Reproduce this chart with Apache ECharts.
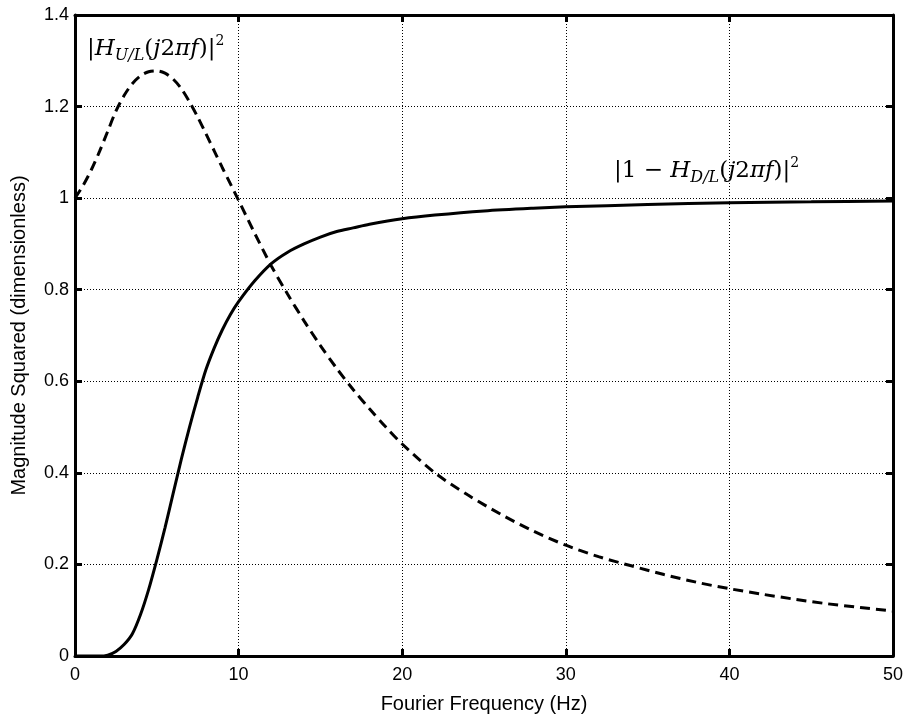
<!DOCTYPE html>
<html>
<head>
<meta charset="utf-8">
<script src="https://cdn.jsdelivr.net/npm/echarts@6/dist/echarts.min.js"></script>
<style>
html,body{margin:0;padding:0;background:#fff;}
#chart{width:907px;height:719px;}
</style>
</head>
<body>
<div id="chart"></div>
<script>
// Frequencies (Hz) and values for |H_U/L(j2πf)|^2 (dashed)
const freqUL = [0,0.5,1,1.5,2,2.5,3,3.5,4,4.5,5,5.5,6,6.5,7,7.5,8,8.5,9,9.5,10,11,12,13,14,15,16,17,18,19,20,22,24,26,28,30,32,34,36,38,40,42,44,46,48,50];
const valUL  = [1.0,1.028,1.062,1.102,1.146,1.19,1.224,1.25,1.267,1.276,1.278,1.273,1.26,1.239,1.21,1.177,1.141,1.104,1.067,1.031,0.995,0.922,0.852,0.79,0.732,0.678,0.628,0.582,0.54,0.50,0.463,0.40,0.352,0.31,0.273,0.242,0.217,0.197,0.178,0.161,0.147,0.135,0.124,0.114,0.106,0.098];
// Frequencies (Hz) and values for |1 - H_D/L(j2πf)|^2 (solid)
const freqDL = [0,1,1.5,2,2.5,3,3.5,4,4.5,5,5.5,6,6.5,7,7.5,8,8.5,9,9.5,10,11,12,13,14,15,16,17,18,20,22,25,28,30,35,40,45,50];
const valDL  = [0,0,0,0.002,0.01,0.025,0.048,0.09,0.145,0.21,0.28,0.355,0.43,0.50,0.565,0.625,0.672,0.712,0.746,0.774,0.82,0.857,0.882,0.90,0.915,0.927,0.935,0.943,0.955,0.963,0.972,0.978,0.981,0.986,0.99,0.992,0.994];
const xTicks = [0,10,20,30,40,50];
const yTicks = [0,0.2,0.4,0.6,0.8,1,1.2,1.4];
const xTitle = 'Fourier Frequency (Hz)';
const yTitle = 'Magnitude Squared (dimensionless)';

const chart = echarts.init(document.getElementById('chart'), null, {renderer:'canvas'});
const fontUI = 'Liberation Sans, Arial, sans-serif';
const fontMath = 'DejaVu Serif, Liberation Serif, serif';

const axisCommon = {
  axisLine:{show:true, onZero:false, lineStyle:{color:'#000', width:3}},
  axisTick:{show:true, inside:true, length:7, lineStyle:{color:'#000', width:3}},
};

const mathRich = {
  r:{fontFamily:fontMath, fontSize:23, fill:'#000', verticalAlign:'middle', lineHeight:30},
  i:{fontFamily:fontMath, fontStyle:'italic', fontSize:23, fill:'#000', verticalAlign:'middle', lineHeight:30},
  s:{fontFamily:fontMath, fontStyle:'italic', fontSize:16, fill:'#000', verticalAlign:'bottom', lineHeight:15},
  p:{fontFamily:fontMath, fontSize:14, fill:'#000', verticalAlign:'top', lineHeight:15}
};

const option = {
  backgroundColor:'#fff',
  animation:false,
  grid:{left:75, right:14, top:15, bottom:59, show:false},
  xAxis:[{
    type:'value', min:0, max:50, interval:10, position:'bottom',
    ...axisCommon,
    axisLabel:{color:'#000', fontFamily:fontUI, fontSize:18, margin:10,
      formatter:v=> xTicks.includes(v)? String(v):''},
    splitLine:{show:true, lineStyle:{color:'#000', width:1, type:[1,2]}},
    name:xTitle, nameLocation:'middle', nameGap:38,
    nameTextStyle:{color:'#000', fontFamily:fontUI, fontSize:20}
  },{
    type:'value', min:0, max:50, interval:10, position:'top',
    ...axisCommon, axisLabel:{show:false}, splitLine:{show:false}
  }],
  yAxis:[{
    type:'value', min:0, max:1.4, interval:0.2, position:'left',
    ...axisCommon,
    axisLabel:{color:'#000', fontFamily:fontUI, fontSize:18, margin:6,
      formatter:v=>{ const r=Math.round(v*10)/10; return yTicks.includes(r)? String(r):''; }},
    splitLine:{show:true, lineStyle:{color:'#000', width:1, type:[1,2]}},
    name:yTitle, nameLocation:'middle', nameGap:46, nameRotate:90,
    nameTextStyle:{color:'#000', fontFamily:fontUI, fontSize:20}
  },{
    type:'value', min:0, max:1.4, interval:0.2, position:'right',
    ...axisCommon, axisLabel:{show:false}, splitLine:{show:false}
  }],
  series:[{
    type:'line', name:'UL', showSymbol:false, smooth:0.3,
    data: freqUL.map((f,i)=>[f, valUL[i]]),
    lineStyle:{color:'#000', width:3, type:[10,6]},
    z:3
  },{
    type:'line', name:'DL', showSymbol:false, smooth:0.3,
    data: freqDL.map((f,i)=>[f, valDL[i]]),
    lineStyle:{color:'#000', width:3, type:'solid'},
    z:3
  }],
  graphic:[{
    type:'text', left:87, top:34,
    style:{
      text:'{r||}{i|H}{s|U/L}{r|(}{i|j}{r|2}{i|πf}{r|)|}{p|2}',
      rich:mathRich
    }
  },{
    type:'text', left:614, top:156,
    style:{
      text:'{r||1 − }{i|H}{s|D/L}{r|(}{i|j}{r|2}{i|πf}{r|)|}{p|2}',
      rich:mathRich
    }
  }]
};
chart.setOption(option);
</script>
</body>
</html>
